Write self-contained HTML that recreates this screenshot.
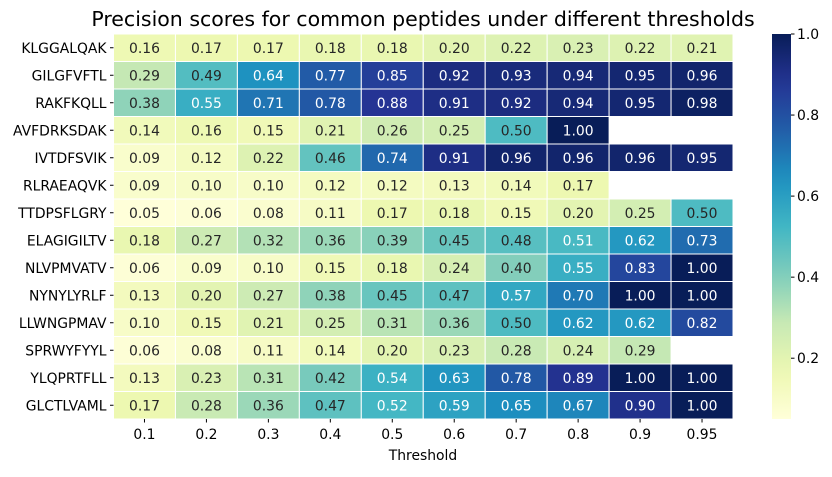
<!DOCTYPE html>
<html><head><meta charset="utf-8"><style>
body{margin:0;background:#fff;font-family:"Liberation Sans","DejaVu Sans",sans-serif}
svg text{font-family:"DejaVu Sans","Liberation Sans",sans-serif}
</style></head><body>
<svg id="chart" width="832" height="472" xmlns="http://www.w3.org/2000/svg">
<defs><linearGradient id="cbg" x1="0" y1="1" x2="0" y2="0"></linearGradient></defs>
<text x="423" y="26" text-anchor="middle" font-size="20.5" fill="#000">Precision scores for common peptides under different thresholds</text>
<g id="cells"></g><g id="ylab"></g><g id="xlab"></g><g id="cbar"></g>
<text x="423" y="460" text-anchor="middle" font-size="13.9">Threshold</text>
</svg>
<script>
const peptides=["KLGGALQAK","GILGFVFTL","RAKFKQLL","AVFDRKSDAK","IVTDFSVIK","RLRAEAQVK","TTDPSFLGRY","ELAGIGILTV","NLVPMVATV","NYNYLYRLF","LLWNGPMAV","SPRWYFYYL","YLQPRTFLL","GLCTLVAML"];
const thresholds=["0.1","0.2","0.3","0.4","0.5","0.6","0.7","0.8","0.9","0.95"];
const r0=[0.16,0.17,0.17,0.18,0.18,0.20,0.22,0.23,0.22,0.21];
const r1=[0.29,0.49,0.64,0.77,0.85,0.92,0.93,0.94,0.95,0.96];
const r2=[0.38,0.55,0.71,0.78,0.88,0.91,0.92,0.94,0.95,0.98];
const r3=[0.14,0.16,0.15,0.21,0.26,0.25,0.50,1.00,null,null];
const r4=[0.09,0.12,0.22,0.46,0.74,0.91,0.96,0.96,0.96,0.95];
const r5=[0.09,0.10,0.10,0.12,0.12,0.13,0.14,0.17,null,null];
const r6=[0.05,0.06,0.08,0.11,0.17,0.18,0.15,0.20,0.25,0.50];
const r7=[0.18,0.27,0.32,0.36,0.39,0.45,0.48,0.51,0.62,0.73];
const r8=[0.06,0.09,0.10,0.15,0.18,0.24,0.40,0.55,0.83,1.00];
const r9=[0.13,0.20,0.27,0.38,0.45,0.47,0.57,0.70,1.00,1.00];
const r10=[0.10,0.15,0.21,0.25,0.31,0.36,0.50,0.62,0.62,0.82];
const r11=[0.06,0.08,0.11,0.14,0.20,0.23,0.28,0.24,0.29,null];
const r12=[0.13,0.23,0.31,0.42,0.54,0.63,0.78,0.89,1.00,1.00];
const r13=[0.17,0.28,0.36,0.47,0.52,0.59,0.65,0.67,0.90,1.00];
const values=[r0,r1,r2,r3,r4,r5,r6,r7,r8,r9,r10,r11,r12,r13];
const cbTicks=[0.2,0.4,0.6,0.8,1.0];
const vmin=0.05,vmax=1.0;
const L=113.5,R=733,T=34,B=419;
const NS="http://www.w3.org/2000/svg";
const stops=["#ffffd9","#edf8b1","#c7e9b4","#7fcdbb","#41b6c4","#1d91c0","#225ea8","#253494","#081d58"].map(h=>[1,3,5].map(i=>parseInt(h.substr(i,2),16)));
function cmap(v){let t=Math.max(0,Math.min(1,(v-vmin)/(vmax-vmin)))*8;let i=Math.min(7,Math.floor(t)),f=t-i;return stops[i].map((c,k)=>c+(stops[i+1][k]-c)*f);}
function lum(c){const l=c.map(x=>{x/=255;return x<=0.03928?x/12.92:Math.pow((x+0.055)/1.055,2.4)});return 0.2126*l[0]+0.7152*l[1]+0.0722*l[2];}
const cw=(R-L)/thresholds.length,ch=(B-T)/peptides.length;
const xc=j=>L+cw*(j+0.5),yc=i=>T+ch*(i+0.5);
function mk(tag,attrs,parent){const e=document.createElementNS(NS,tag);for(const k in attrs)e.setAttribute(k,attrs[k]);parent.appendChild(e);return e;}
const cells=document.getElementById('cells');
values.forEach((row,i)=>row.forEach((v,j)=>{if(v===null)return;const c=cmap(v);
 const r=mk('rect',{x:L+cw*j,y:T+ch*i,width:cw,height:ch,fill:`rgb(${c.map(Math.round)})`,stroke:'#fff','stroke-width':1},cells);
 
 
 const t=mk('text',{x:xc(j),y:yc(i)+5,'text-anchor':'middle','font-size':13.9,fill:lum(c)>0.408?'#262626':'#fff'},cells);t.textContent=v.toFixed(2);
 
 
}));
const yl=document.getElementById('ylab');
peptides.forEach((p,i)=>{mk('line',{x1:L-3.5,x2:L,y1:yc(i),y2:yc(i),stroke:'#000'},yl);const t=mk('text',{x:L-7,y:yc(i)+5,'text-anchor':'end','font-size':13.9},yl);t.textContent=p;
 
 });
const xl=document.getElementById('xlab');
thresholds.forEach((p,j)=>{mk('line',{x1:xc(j),x2:xc(j),y1:B,y2:B+3.5,stroke:'#000'},xl);const t=mk('text',{x:xc(j),y:B+20,'text-anchor':'middle','font-size':13.9},xl);t.textContent=p;
 
 });
const g=document.getElementById('cbg');
for(let k=0;k<=20;k++){const v=vmin+(vmax-vmin)*k/20;const c=cmap(v);mk('stop',{offset:k/20,'stop-color':`rgb(${c.map(Math.round)})`},g);}
const cb=document.getElementById('cbar');
const bar=mk('rect',{x:772,y:T,width:19,height:B-T,fill:'url(#cbg)'},cb);


cbTicks.forEach(v=>{const y=B-(v-vmin)/(vmax-vmin)*(B-T);mk('line',{x1:791,x2:794.5,y1:y,y2:y,stroke:'#000'},cb);const t=mk('text',{x:797,y:y+5,'font-size':13.9},cb);t.textContent=v.toFixed(1);
 
 });
</script>
</body></html>
